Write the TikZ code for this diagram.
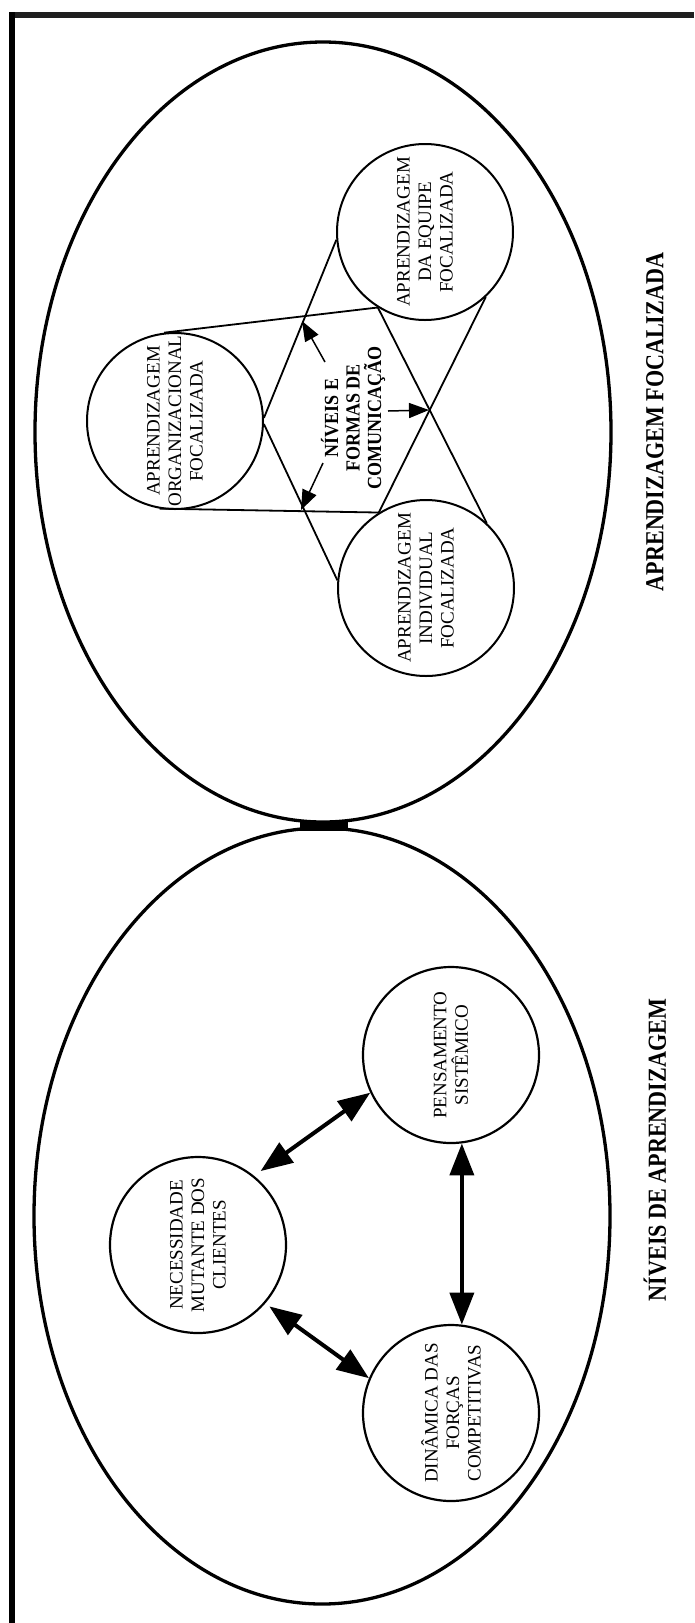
\documentclass[tikz,border=0pt]{standalone}
\usepackage{fontspec}
\setmainfont{Liberation Serif}
\usetikzlibrary{arrows.meta,calc}
\begin{document}
\begin{tikzpicture}[x=1pt,y=-1pt,
  bubble/.style={draw,circle,minimum size=176pt,inner sep=0pt,line width=2pt},
  bubbletext/.style={rotate=90,align=center,inner sep=0pt,font=\fontsize{19}{21.5}\selectfont},
  hubtext/.style={rotate=90,xscale=0.9,align=center,inner sep=2pt,font=\bfseries\fontsize{20}{21.5}\selectfont},
  caption/.style={rotate=90,xscale=0.85,inner sep=0pt,font=\bfseries\fontsize{26}{30}\selectfont},
  belt/.style={line width=1.8pt},
  pointer/.style={line width=1.5pt,-{Triangle[length=20pt,width=15pt]}},
  link/.style={line width=4pt,{Triangle[length=32pt,width=24pt]}-{Triangle[length=32pt,width=24pt]}},
  ring/.style={line width=3.3pt}]
\useasboundingbox (0,0) rectangle (694,1623);

% frame
\draw[line width=5.7pt,black!88] (9,14.8) -- (694,14.8);
\draw[line width=5.7pt] (12.2,12) -- (12.2,1623);

% the two large ovals and the joint between them
\draw[ring] (323,432) ellipse [x radius=288, y radius=390];
\draw[ring] (322,1216) ellipse [x radius=288, y radius=388];
\fill (300,820.5) rectangle (348,830.5);

% ---------- upper oval: focused learning ----------
\node[bubble] (org) at (175,421) {};
\node[bubble] (team) at (425,232) {};
\node[bubble] (indiv) at (426,588) {};

\begin{scope}
  \clip (org.center) circle [radius=87];
  \node[bubbletext] (orgt) at (org.center) {APRENDIZAGEM\\ORGANIZACIONAL\\FOCALIZADA};
\end{scope}
\begin{scope}
  \clip (team.center) circle [radius=87];
  \node[bubbletext] (teamt) at (team.center) {APRENDIZAGEM\\DA EQUIPE\\FOCALIZADA};
\end{scope}
\begin{scope}
  \clip (indiv.center) circle [radius=87];
  \node[bubbletext] (indivt) at (indiv.center) {APRENDIZAGEM\\INDIVIDUAL\\FOCALIZADA};
\end{scope}

% crossing belts between the three circles
\draw[belt] (org.97) -- (team.-122);
\draw[belt] (org.2) -- (team.185);
\draw[belt] (org.-100) -- (indiv.122);
\draw[belt] (org.-2) -- (indiv.175);
\draw[belt] (team.-122) -- (indiv.47);
\draw[belt] (indiv.122) -- (team.-47);

\coordinate (xtop) at (302,321);
\coordinate (xbot) at (301,510);
\coordinate (xmid) at (429,410);

\node[hubtext] (hub) at (353,418) {NÍVEIS E\\FORMAS DE\\COMUNICAÇÃO};
\draw[pointer] ($(hub.center)+(-28,-56)$) -- (xtop);
\draw[pointer] ($(hub.center)+(-30,45)$) -- (xbot);
\draw[pointer] ($(hub.center)+(35,-7)$) -- (xmid);

\node[caption] (capA) at (655,422) {APRENDIZAGEM FOCALIZADA};

% ---------- lower oval: learning levels ----------
\node[bubble,line width=2.2pt] (needs) at (198,1245) {};
\node[bubble,line width=2.2pt] (think) at (451,1055) {};
\node[bubble,line width=2.2pt] (forces) at (451,1413) {};

\node[bubbletext] (needst) at (needs.center) {NECESSIDADE\\MUTANTE DOS\\CLIENTES};
\node[bubbletext] (thinkt) at (think.center) {PENSAMENTO\\SISTÊMICO};
\node[bubbletext] (forcest) at (forces.center) {DINÂMICA DAS\\FORÇAS\\COMPETITIVAS};

\draw[link,shorten <=8pt] (needs.51) -- (think.205);
\draw[link,shorten <=5pt] (needs.-41) -- (forces.157);
\draw[link] (think.-83) -- (forces.83);

\node[caption] (capB) at (655,1150) {NÍVEIS DE APRENDIZAGEM};
\end{tikzpicture}
\end{document}
